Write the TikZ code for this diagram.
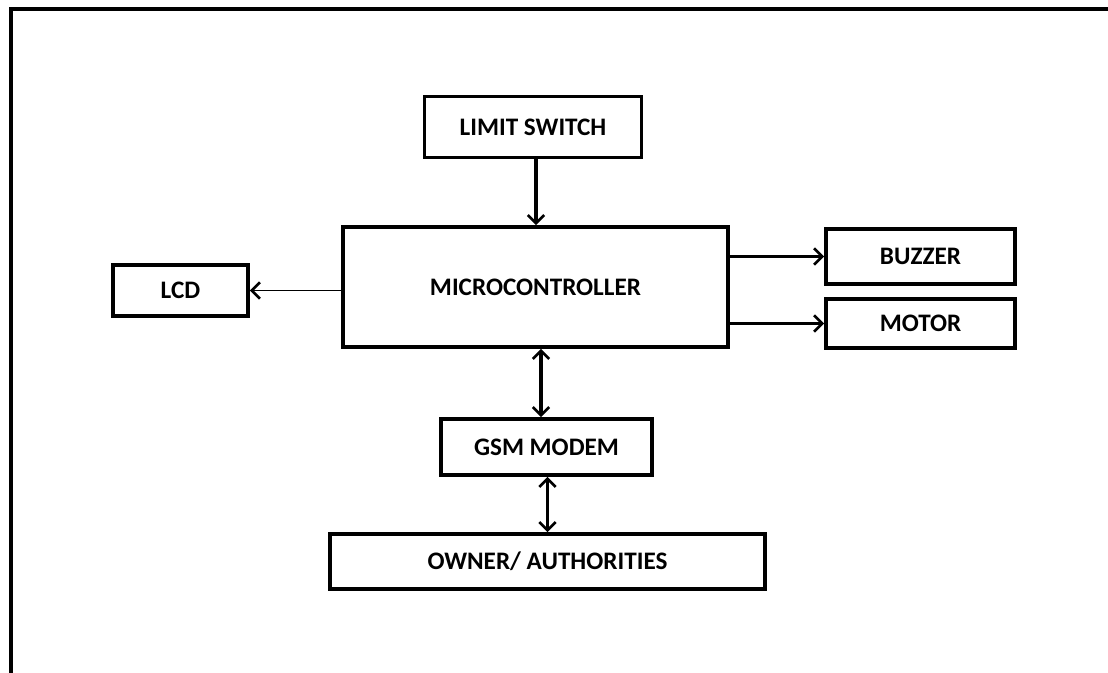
\documentclass[tikz,border=0pt]{standalone}
\usepackage{fontspec}
\setmainfont{Carlito}
\usetikzlibrary{arrows.meta}

\begin{document}
\begin{tikzpicture}[x=0.03cm,y=-0.03cm]
    \tikzstyle{every node}=[font=\fontsize{21.5}{26}\selectfont\bfseries]
    \tikzstyle{block}=[draw,line width=3.2pt,inner sep=0pt]
    \tikzstyle{arr}=[line width=2.2pt,-{Straight Barb[length=7pt,width=14pt,line width=2.2pt]}]
    \tikzstyle{darr}=[line width=2.6pt,{Straight Barb[length=7pt,width=14pt,line width=2.2pt]}-{Straight Barb[length=7pt,width=14pt,line width=2.2pt]}]
    \useasboundingbox (0,0) rectangle (1108,673);
    \draw[line width=2.8pt] (1108,9) -- (11,9) -- (11,673);

    \node[block,minimum width=6.51cm,minimum height=1.83cm] (lim) at (533,127) {LIMIT SWITCH};
    \node[block,minimum width=11.55cm,minimum height=3.6cm] (mcu) at (535.5,287) {MICROCONTROLLER};
    \node[block,minimum width=4.05cm,minimum height=1.53cm] (lcd) at (180.5,290.5) {LCD};
    \node[block,minimum width=5.67cm,minimum height=1.65cm] (buz) at (920.5,256.5) {BUZZER};
    \node[block,minimum width=5.67cm,minimum height=1.47cm] (mot) at (920.5,323.5) {MOTOR};
    \node[block,minimum width=6.33cm,minimum height=1.68cm] (gsm) at (546.5,447) {GSM MODEM};
    \node[block,minimum width=13.05cm,minimum height=1.65cm] (own) at (547.5,561.5) {OWNER/ AUTHORITIES};

    \draw[arr,line width=2.6pt] ([xshift=0.09cm]lim.south) -- ([xshift=0.09cm]lim.south |- mcu.north);
    \draw[arr,line width=1.4pt] (mcu.west |- lcd.east) -- (lcd.east);
    \draw[arr] (mcu.east |- buz.west) -- (buz.west);
    \draw[arr] (mcu.east |- mot.west) -- (mot.west);
    \draw[darr] ([xshift=-0.165cm]gsm.north |- mcu.south) -- ([xshift=-0.165cm]gsm.north);
    \draw[darr] (own.north |- gsm.south) -- (own.north);

\end{tikzpicture}
\end{document}
